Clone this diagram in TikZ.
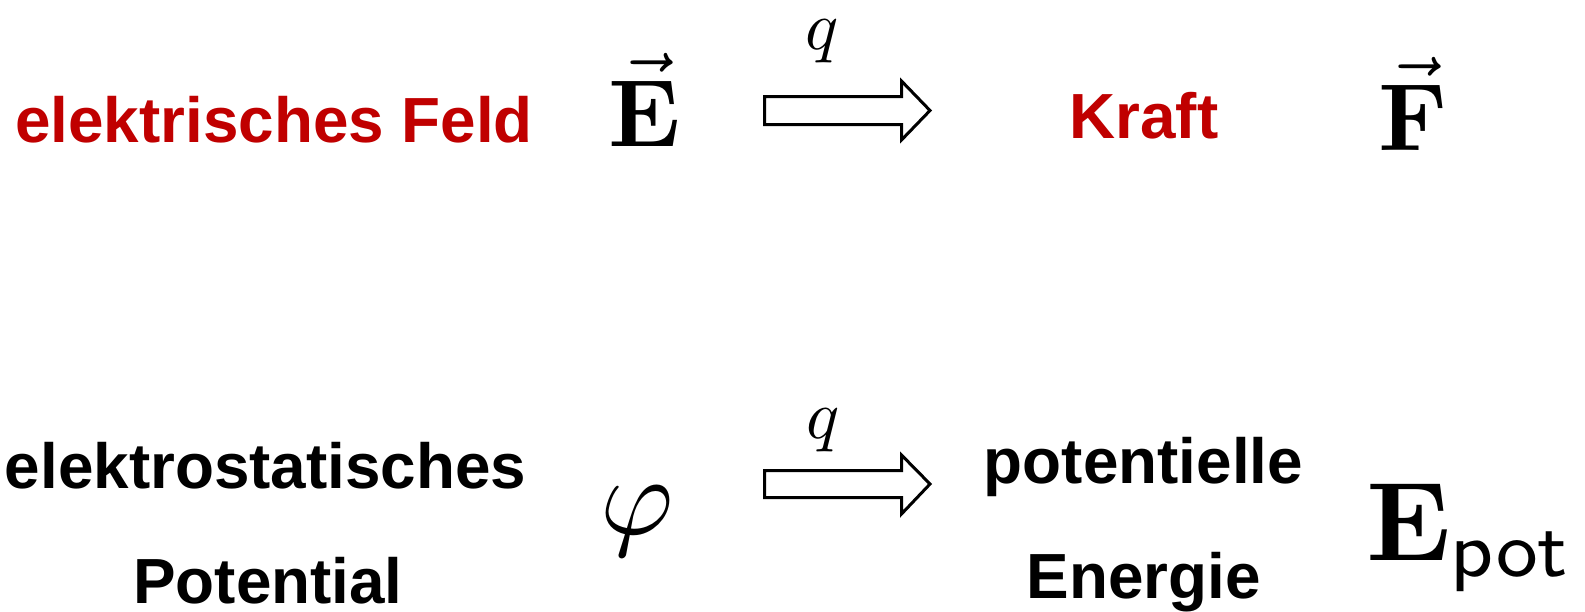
\documentclass[tikz,border=0pt]{standalone}
\usepackage{graphicx}
\usepackage[no-math]{fontspec}
\newfontfamily\labfont{Liberation Sans}
\definecolor{darkred}{HTML}{C00000}
\newcommand{\mtopsym}[1]{\scalebox{9.55}{$#1$}}
\newcommand{\mbotsym}[1]{\scalebox{11.2}{$#1$}}
\newcommand{\qsym}{\scalebox{6.9}{$q$}}
\begin{document}
\begin{tikzpicture}[x=1pt,y=-1pt,
  lab/.style={inner sep=0pt,anchor=base,font=\labfont\bfseries\fontsize{63.8}{76}\selectfont},
  msym/.style={inner sep=0pt,anchor=base},
  barrow/.style={draw=black,line width=3pt,fill=white,line join=miter}]
\path[use as bounding box,fill=white] (0,0) rectangle (1585,611);
% top row
\node[lab,text=darkred] (feld) at (274,142) {elektrisches Feld};
\node[msym] (E) at (645,146) {\mtopsym{\vec{\mathbf{E}}}};
\node[msym] (q1) at (822,49.5) {\qsym};
\node[lab,text=darkred] (kraft) at (1144,138.5) {Kraft};
\node[msym] (F) at (1413,150) {\mtopsym{\vec{\mathbf{F}}}};
% bottom row
\node[lab] (pot1) at (265.5,488) {elektrostatisches};
\node[lab] (pot2) at (268,603) {Potential};
\node[msym] (phi) at (637,534) {\mbotsym{\varphi}};
\node[msym] (q2) at (823,438.5) {\qsym};
\node[lab] (en1) at (1143.5,483) {potentielle};
\node[lab] (en2) at (1143.5,598) {Energie};
\node[msym] (Ep) at (1470,560) {\mbotsym{\mathbf{E}_{\mathsf{pot}}}};
% block arrows
\draw[barrow] (764.5,96.5) -- (901.5,96.5) -- (901.5,81) -- (930,110.5) -- (901.5,140) -- (901.5,124.5) -- (764.5,124.5) -- cycle;
\draw[barrow] (764.5,470.5) -- (901.5,470.5) -- (901.5,455) -- (930,484) -- (901.5,514) -- (901.5,497.5) -- (764.5,497.5) -- cycle;
\end{tikzpicture}
\end{document}
